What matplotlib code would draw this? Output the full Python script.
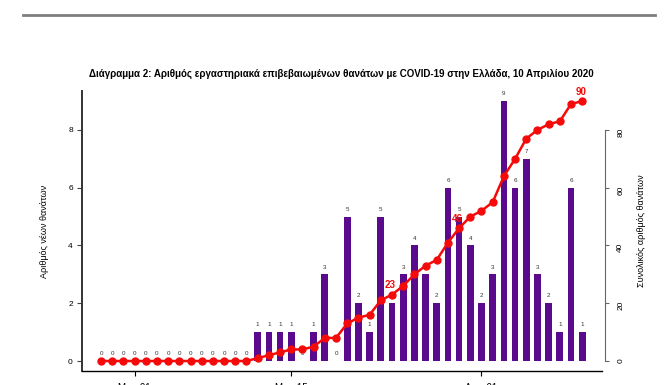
import matplotlib
import matplotlib.pyplot as plt
import numpy as np
import pandas as pd
from matplotlib.lines import Line2D

matplotlib.use('Agg')
plt.rcParams['font.family'] = ['Liberation Sans', 'DejaVu Sans']

TITLE = ('Διάγραμμα 2: Αριθμός εργαστηριακά επιβεβαιωμένων θανάτων '
         'με COVID-19 στην Ελλάδα, 10 Απριλίου 2020')

dates = pd.date_range('2020-02-27', '2020-04-10', freq='D')
new_deaths = [0] * 14 + [1, 1, 1, 1, 0, 1, 3, 0, 5, 2, 1, 5, 2, 3, 4, 3, 2,
                         6, 5, 4, 2, 3, 9, 6, 7, 3, 2, 1, 6, 1]
tick_dates = ['2020-03-01', '2020-03-15', '2020-04-01']
tick_labels = ['Μαρ 01', 'Μαρ 15', 'Απρ 01']
highlight = [23, 46, 90]  # cumulative values labelled on the line

BAR_COLOR = '#5a0a8c'
LINE_COLOR = '#f50a0a'


def main():
    x = np.arange(len(dates))
    daily = np.array(new_deaths)
    total = np.cumsum(daily)

    fig = plt.figure(figsize=(6.71, 3.85), dpi=100)
    ax = fig.add_axes([0.1222, 0.0353, 0.775, 0.7291])
    ax2 = ax.twinx()

    ax.bar(x, daily, width=0.6, color=BAR_COLOR, zorder=2)
    for xi, v in zip(x, daily):
        ax.annotate(str(v), (xi, v), xytext=(0, 3.5), textcoords='offset points',
                    ha='center', va='bottom', fontsize=4.5, color='#333333')

    ax2.plot(x, total, color=LINE_COLOR, lw=1.8, marker='o', ms=5, zorder=3)
    for v in highlight:
        i = int(np.argmax(total == v))
        ax2.annotate(str(v), (x[i], total[i]), xytext=(-1, 3), textcoords='offset points',
                     ha='center', va='bottom', fontsize=7, fontweight='bold',
                     color=LINE_COLOR)

    ax.set_xlim(-1.7, 44.77)
    ax.set_ylim(-0.36, 9.36)
    ax2.set_ylim(-3.6, 93.6)

    ax.set_yticks([0, 2, 4, 6, 8])
    ax2.set_yticks([0, 20, 40, 60, 80])
    ticks = [dates.get_loc(pd.Timestamp(d)) for d in tick_dates]
    ax.set_xticks(ticks, tick_labels)

    ax.tick_params(axis='y', labelsize=6, length=3.6, width=0.8, pad=3, color='#444444')
    ax.tick_params(axis='x', labelsize=7, length=3.6, width=0.8, pad=4.8)
    ax2.tick_params(axis='y', labelsize=6, length=3, width=0.8, pad=6,
                    color='#666666', labelrotation=90)
    for lab in ax2.get_yticklabels():
        lab.set_va('center')

    for a in (ax, ax2):
        a.spines['top'].set_visible(False)
    ax.spines['right'].set_visible(False)
    ax2.spines['left'].set_visible(False)
    ax2.spines['bottom'].set_visible(False)
    ax.spines['left'].set_linewidth(1.4)
    ax.spines['left'].set_color('#333333')
    ax.spines['bottom'].set_linewidth(1.0)
    ax2.spines['right'].set_bounds(0, 80)
    ax2.spines['right'].set_color('#666666')
    ax2.spines['right'].set_position(('outward', 2))

    ax.set_ylabel('Αριθμός νέων θανάτων', fontsize=6.5, labelpad=14)
    ax2.set_ylabel('Συνολικός αριθμός θανάτων', fontsize=6.5, rotation=90, labelpad=9)

    fig.text(0.508, 0.809, TITLE, ha='center', va='center', fontsize=7, fontweight='bold')
    fig.add_artist(Line2D([23 / 671, 655 / 671], [1 - 15 / 385, 1 - 15 / 385],
                          color='#7f7f7f', lw=2))

    fig.savefig('out.png', dpi=100)


if __name__ == "__main__":
    main()
